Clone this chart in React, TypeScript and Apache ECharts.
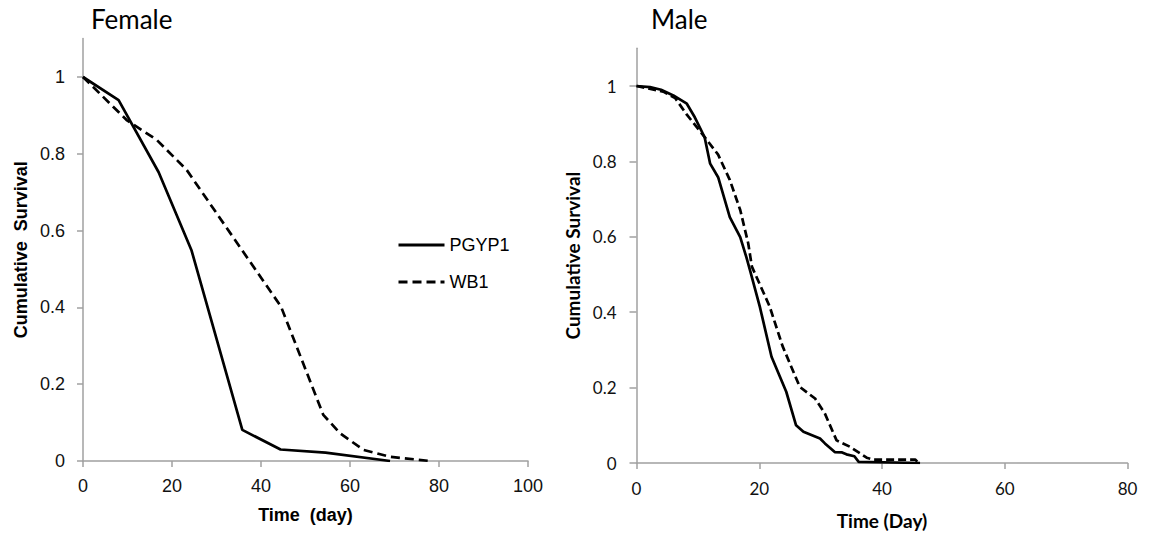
import React, { useEffect, useRef } from "react";
import * as echarts from "echarts";

// Female
const femalePgypDays = [0, 8, 17, 24.4, 35.8, 44.4, 54.5, 69];
const femalePgypSurv = [1, 0.94, 0.752, 0.548, 0.081, 0.03, 0.022, 0];
const femaleWbDays = [0, 9.8, 16.6, 23.3, 44.5, 54, 57.8, 63, 69, 78];
const femaleWbSurv = [1, 0.888, 0.836, 0.758, 0.402, 0.12, 0.072, 0.029, 0.011, 0];

// Male
const malePgypDays = [0, 2.2, 4, 6, 8.2, 9.5, 11.1, 12, 13.3, 15.2, 16.9, 17.9, 18.5, 20.1, 22, 24.4, 26, 27.2, 29.9, 30.7, 32.3, 33.5, 34.2, 35.5, 36.2, 46.2];
const malePgypSurv = [1, 0.997, 0.99, 0.975, 0.953, 0.917, 0.864, 0.794, 0.758, 0.652, 0.599, 0.546, 0.511, 0.414, 0.282, 0.189, 0.1, 0.083, 0.065, 0.052, 0.029, 0.028, 0.023, 0.018, 0.003, 0];
const maleWbDays = [0, 4.35, 6.3, 8.2, 10.6, 13.3, 15.2, 16.9, 18.2, 18.8, 21.7, 23.8, 26.6, 29.1, 30.7, 32.6, 34.8, 37.5, 38.6, 45.4, 46];
const maleWbSurv = [1, 0.985, 0.968, 0.924, 0.875, 0.818, 0.751, 0.671, 0.583, 0.521, 0.415, 0.31, 0.202, 0.171, 0.131, 0.06, 0.043, 0.014, 0.009, 0.009, 0];

const yTicks = [0, 0.2, 0.4, 0.6, 0.8, 1];
const seriesNames = ["PGYP1", "WB1"];

const pairs = (xs: number[], ys: number[]) => xs.map((x, i) => [x, ys[i]]);

export default function App() {
  const ref = useRef<HTMLDivElement>(null);
  useEffect(() => {
    if (!ref.current) return;
    const chart = echarts.init(ref.current, undefined, { renderer: "svg" });
    const axisLineStyle = { color: "#a0a0a0", width: 1.5 };
    const fArial = "Liberation Sans, Arial, sans-serif";
    const fCal = "Lato, sans-serif";
    const solid = { color: "#000", width: 2.7, type: "solid" as const };
    const dashedF = { color: "#000", width: 2.7, type: [9, 5] as any };
    const dashedM = { color: "#000", width: 2.7, type: [8, 4] as any };
    chart.setOption({
      animation: false,
      backgroundColor: "#fff",
      title: [
        { text: "Female", left: 91, top: 4, padding: 0, textStyle: { fontFamily: fCal, fontSize: 26, fontWeight: "normal", color: "#000", lineHeight: 30 } },
        { text: "Male", left: 651, top: 4, padding: 0, textStyle: { fontFamily: fCal, fontSize: 26, fontWeight: "normal", color: "#000", lineHeight: 30 } },
      ],
      legend: {
        orient: "vertical",
        left: 397,
        top: 236,
        padding: 0,
        itemWidth: 46,
        itemHeight: 14,
        itemGap: 19,
        data: seriesNames,
        itemStyle: { opacity: 0 },
        lineStyle: { width: 3 },
        textStyle: { fontFamily: fArial, fontSize: 18, color: "#000", lineHeight: 14, padding: [0, 0, 0, 0] },
        selectedMode: false,
      },
      grid: [
        { left: 83, top: 38.6, width: 445, height: 422.4 },
        { left: 636.5, top: 48.3, width: 491, height: 414.7 },
      ],
      xAxis: [
        {
          type: "value", gridIndex: 0, min: 0, max: 100, interval: 20,
          name: "Time  (day)", nameLocation: "middle", nameGap: 45,
          nameTextStyle: { fontFamily: fArial, fontSize: 18, fontWeight: "bold", color: "#000" },
          axisLine: { lineStyle: axisLineStyle },
          axisTick: { show: true, length: 6, lineStyle: axisLineStyle },
          axisLabel: { fontFamily: fArial, fontSize: 18, color: "#111", margin: 16 },
          splitLine: { show: false },
        },
        {
          type: "value", gridIndex: 1, min: 0, max: 80, interval: 20,
          name: "Time (Day)", nameLocation: "middle", nameGap: 48,
          nameTextStyle: { fontFamily: fCal, fontSize: 19, fontWeight: "bold", color: "#000" },
          axisLine: { lineStyle: axisLineStyle },
          axisTick: { show: true, length: 6, lineStyle: axisLineStyle },
          axisLabel: { fontFamily: fCal, fontSize: 17, color: "#111", margin: 17 },
          splitLine: { show: false },
        },
      ],
      yAxis: [
        {
          type: "value", gridIndex: 0, min: 0, max: 1.1,
          name: "Cumulative  Survival", nameLocation: "middle", nameGap: 53,
          nameTextStyle: { fontFamily: fArial, fontSize: 18, fontWeight: "bold", color: "#000" },
          axisLine: { show: true, lineStyle: axisLineStyle },
          axisTick: { show: true, length: 6, customValues: yTicks, lineStyle: axisLineStyle },
          axisLabel: { fontFamily: fArial, fontSize: 18, color: "#111", margin: 18, customValues: yTicks, formatter: (v: number) => String(v) },
          splitLine: { show: false },
        },
        {
          type: "value", gridIndex: 1, min: 0, max: 1.1,
          name: "Cumulative Survival", nameLocation: "middle", nameGap: 55,
          nameTextStyle: { fontFamily: fCal, fontSize: 19, fontWeight: "bold", color: "#000" },
          axisLine: { show: true, lineStyle: axisLineStyle },
          axisTick: { show: true, length: 7, customValues: yTicks, lineStyle: axisLineStyle },
          axisLabel: { fontFamily: fCal, fontSize: 17, color: "#111", margin: 20, customValues: yTicks, formatter: (v: number) => String(v) },
          splitLine: { show: false },
        },
      ],
      series: [
        { name: "PGYP1", type: "line", xAxisIndex: 0, yAxisIndex: 0, symbol: "none", showSymbol: false, lineStyle: solid, itemStyle: { color: "#000" }, data: pairs(femalePgypDays, femalePgypSurv) },
        { name: "WB1", type: "line", xAxisIndex: 0, yAxisIndex: 0, symbol: "none", showSymbol: false, lineStyle: dashedF, itemStyle: { color: "#000" }, data: pairs(femaleWbDays, femaleWbSurv) },
        { name: "PGYP1", type: "line", xAxisIndex: 1, yAxisIndex: 1, symbol: "none", showSymbol: false, lineStyle: solid, itemStyle: { color: "#000" }, data: pairs(malePgypDays, malePgypSurv) },
        { name: "WB1", type: "line", xAxisIndex: 1, yAxisIndex: 1, symbol: "none", showSymbol: false, lineStyle: dashedM, itemStyle: { color: "#000" }, data: pairs(maleWbDays, maleWbSurv) },
      ],
    });
    return () => chart.dispose();
  }, []);
  return <div ref={ref} style={{ position: "fixed", left: 0, top: 0, width: 1152, height: 535, background: "#fff" }} />;
}
